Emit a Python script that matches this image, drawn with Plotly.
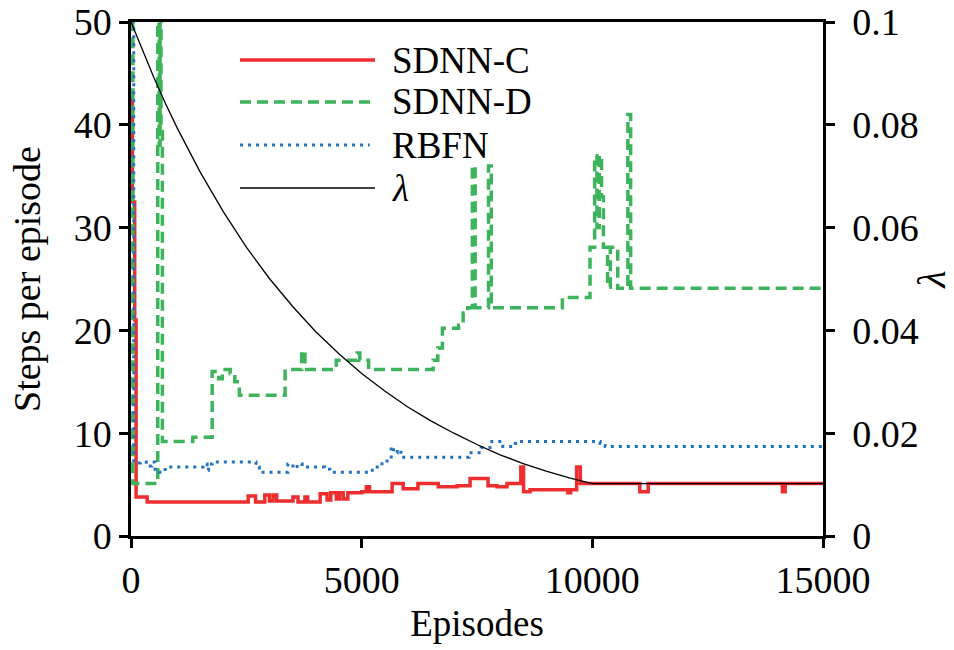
import plotly.graph_objects as go

# ---- data ----
red_x = [0, 30, 80, 110, 350, 2540, 2700, 2900, 3000, 3080, 3160, 3510, 3620, 3770, 3830,
         4100, 4250, 4330, 4450, 4520, 4600, 4700, 5000, 5100, 5170, 5660, 5900, 6220, 6660,
         7070, 7350, 7740, 7935, 8150, 8450, 8510, 8650, 9470, 9530, 9660, 9740, 11030, 11210,
         14120, 14180, 15000]
red_y = [43, 32.5, 21, 3.8, 3.3, 3.9, 3.3, 4.0, 3.4, 4.0, 3.4, 3.8, 3.3, 3.8, 3.3,
         4.1, 3.5, 4.2, 3.6, 4.2, 3.6, 4.2, 4.3, 4.8, 4.3, 5.1, 4.6, 5.1, 4.8,
         4.9, 5.6, 4.9, 4.8, 5.1, 6.7, 4.3, 4.5, 4.2, 4.5, 6.7, 5.1, 4.3, 5.1,
         4.3, 5.1, 5.1]

green_x = [0, 40, 580, 610, 630, 650, 680, 1340, 1760, 1900, 1980, 2150, 2250, 2350, 3340,
           3700, 3770, 4450, 4900, 4960, 5150, 6550, 6650, 6750, 7100, 7200, 7300, 7400, 7460,
           7750, 7810, 9350, 9950, 10050, 10100, 10150, 10200, 10240, 10330, 10390, 10550,
           10770, 10830, 15000]
green_y = [50, 5.1, 50, 38, 50, 40, 9.2, 9.6, 16.0, 15.3, 16.2, 15.8, 15.0, 13.7, 16.2,
           18.0, 16.2, 17.1, 17.8, 17.1, 16.2, 17.1, 18.3, 20.2, 20.5, 21.7, 22.2, 36.0, 22.2,
           36.0, 22.2, 23.2, 28.1, 37.0, 30.0, 37.0, 33.0, 28.1, 24.2, 28.1, 24.1,
           41.0, 24.1, 24.1]

blue_x = [0, 60, 200, 330, 450, 520, 740, 1560, 1650, 1680, 1760, 2710, 2780, 3400, 3510,
          3600, 3710, 4200, 4310, 5230, 5440, 5640, 5690, 5770, 5850, 7330, 7590, 7780, 8060,
          8330, 8430, 10170, 10280, 15000]
blue_y = [50, 7.1, 7.2, 6.8, 7.2, 6.2, 6.7, 7.0, 6.4, 7.0, 7.2, 6.7, 6.2, 7.0, 6.6,
          7.0, 6.7, 6.5, 6.2, 6.7, 7.3, 8.7, 8.1, 8.4, 7.65, 8.1, 8.6, 9.2, 8.7,
          9.0, 9.2, 9.0, 8.7, 8.7]

lam_x = [0, 250, 500, 750, 1000, 1500, 2000, 2500, 3000, 3500, 4000, 4500, 5000, 5500, 6000,
         6500, 7000, 7500, 8000, 8500, 9000, 9500, 10000, 15000]
lam_y = [0.1, 0.0944, 0.0891, 0.0841, 0.0794, 0.0708, 0.0631, 0.0562, 0.0501, 0.0447,
         0.0398, 0.0355, 0.0316, 0.0282, 0.0251, 0.0224, 0.0200, 0.0178, 0.0158, 0.0141,
         0.0126, 0.0113, 0.0102, 0.0102]

series_names = ["SDNN-C", "SDNN-D", "RBFN", "<i>λ</i>"]

x_ticks = [0, 5000, 10000, 15000]
x_labels = ["0", "5000", "10000", "15000"]
y_ticks = [0, 10, 20, 30, 40, 50]
y2_ticks = [0, 0.02, 0.04, 0.06, 0.08, 0.1]
y2_labels = ["0", "0.02", "0.04", "0.06", "0.08", "0.1"]

FONT = "Liberation Serif, Times New Roman, serif"

styles = [
    dict(color="#EE2E2E", width=3.5),
    dict(color="#3DB35C", width=3.5, dash="11px,6px"),
    dict(color="#2172C0", width=3, dash="3px,5px"),
    dict(color="black", width=1.3),
]

fig = go.Figure()
fig.add_trace(go.Scatter(x=red_x, y=red_y, name=series_names[0], mode="lines",
                         line_shape="hv", line=styles[0], showlegend=False))
fig.add_trace(go.Scatter(x=green_x, y=green_y, name=series_names[1], mode="lines",
                         line_shape="hv", line=styles[1], showlegend=False))
fig.add_trace(go.Scatter(x=blue_x, y=blue_y, name=series_names[2], mode="lines",
                         line_shape="hv", line=styles[2], showlegend=False))
fig.add_trace(go.Scatter(x=lam_x, y=lam_y, name=series_names[3], mode="lines", yaxis="y2",
                         line=styles[3], showlegend=False))

# legend drawn manually (paper coordinates) to match the reference spacing
leg_x0, leg_x1, leg_tx = 0.1575, 0.3526, 0.3743
leg_rows = [0.926, 0.8444, 0.7607, 0.677]
leg_x1s = [leg_x1, leg_x1, 0.345, leg_x1]
for name, st, yy, x1 in zip(series_names, styles, leg_rows, leg_x1s):
    fig.add_shape(type="line", xref="paper", yref="paper", x0=leg_x0, x1=x1, y0=yy, y1=yy,
                  line=st)
    fig.add_annotation(xref="paper", yref="paper", x=leg_tx, y=yy, text=name,
                       showarrow=False, xanchor="left", yanchor="middle",
                       font=dict(family=FONT, size=37, color="black"))

axis_common = dict(showline=True, linecolor="black", linewidth=2.5, ticks="outside",
                   ticklen=9, tickwidth=2.5, tickcolor="black", showgrid=False,
                   zeroline=False, automargin=False,
                   tickfont=dict(family=FONT, size=38, color="black"))

fig.update_layout(
    width=954, height=650,
    margin=dict(l=131, r=131, t=22, b=114),
    plot_bgcolor="white", paper_bgcolor="white",
    font=dict(family=FONT, size=37, color="black"),
    showlegend=False,
    xaxis=dict(range=[0, 15000], tickvals=x_ticks, ticktext=x_labels, mirror=True,
               title=dict(text="Episodes", font=dict(family=FONT, size=37), standoff=10),
               **axis_common),
    yaxis=dict(range=[0, 50], tickvals=y_ticks,
               title=dict(text="Steps per episode", font=dict(family=FONT, size=38), standoff=22),
               **axis_common),
    yaxis2=dict(range=[0, 0.1], tickvals=y2_ticks, ticktext=y2_labels, overlaying="y",
                side="right", ticklabelstandoff=10,
                title=dict(text="<i>λ</i>", font=dict(family=FONT, size=40), standoff=4),
                **axis_common),
)

fig.write_html("out.html")
